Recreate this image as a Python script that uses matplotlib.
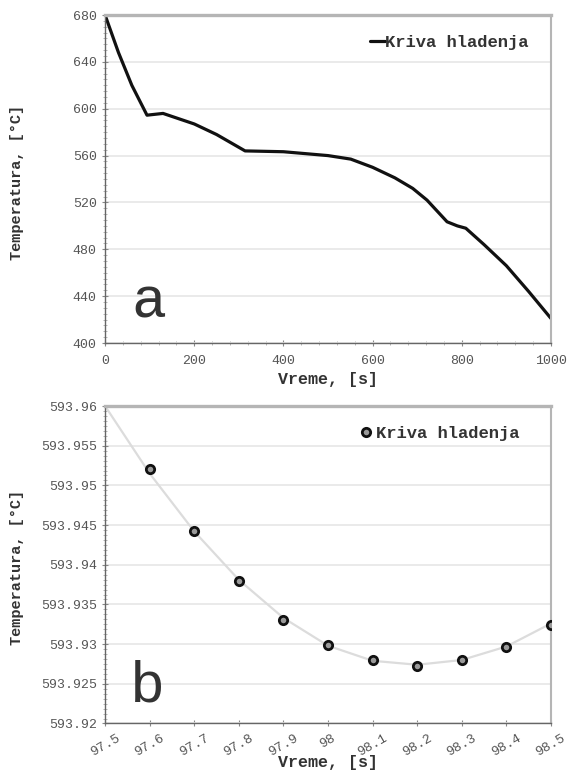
import matplotlib
matplotlib.use("Agg")
import matplotlib.pyplot as plt
from matplotlib.ticker import AutoMinorLocator

# ---- data (panel a) ----
time_a = [0, 30, 60, 94, 130, 200, 250, 314, 400, 500, 551, 600, 650, 690, 722, 767, 790, 809, 850, 900, 950, 1000]
temp_a = [680, 648, 620, 594.5, 596, 587, 578, 564, 563.3, 560, 557, 550, 541, 532, 522, 503.5, 500, 498, 484, 466, 444, 421]

# ---- data (panel b) ----
time_b = [97.6, 97.7, 97.8, 97.9, 98.0, 98.1, 98.2, 98.3, 98.4, 98.5]
temp_b = [593.9521, 593.9443, 593.9379, 593.9331, 593.9299, 593.9280, 593.9273, 593.9280, 593.9296, 593.9324]
fit_time = [97.5, 97.6, 97.7, 97.8, 97.9, 98.0, 98.1, 98.2, 98.3, 98.4, 98.5]
fit_temp = [593.9600, 593.9515, 593.9442, 593.9381, 593.9333, 593.9298, 593.9279, 593.9274, 593.9280, 593.9297, 593.9326]

yticks_a = [400, 440, 480, 520, 560, 600, 640, 680]
xticks_a = [0, 200, 400, 600, 800, 1000]
yticks_b = [593.92, 593.925, 593.93, 593.935, 593.94, 593.945, 593.95, 593.955, 593.96]
ytick_labels_b = ["593.92", "593.925", "593.93", "593.935", "593.94", "593.945", "593.95", "593.955", "593.96"]
xticks_b = [97.5, 97.6, 97.7, 97.8, 97.9, 98.0, 98.1, 98.2, 98.3, 98.4, 98.5]
xtick_labels_b = ["97.5", "97.6", "97.7", "97.8", "97.9", "98", "98.1", "98.2", "98.3", "98.4", "98.5"]

MONO = "Liberation Mono"

fig = plt.figure(figsize=(5.68, 7.70), dpi=100)
ax1 = fig.add_axes([0.185, 0.5545, 0.785, 0.426])
ax2 = fig.add_axes([0.185, 0.0604, 0.785, 0.4123])

def style(ax):
    ax.set_facecolor("white")
    for s in ["top", "right"]:
        ax.spines[s].set_color("#b5b5b5")
        ax.spines[s].set_linewidth(1.5)
    ax.spines["top"].set_linewidth(2.4)
    for s in ["left", "bottom"]:
        ax.spines[s].set_color("#666666")
        ax.spines[s].set_linewidth(1.0)
    ax.yaxis.grid(True, color="#e8e8e8", linewidth=1.3)
    ax.set_axisbelow(True)
    ax.tick_params(axis="both", which="major", direction="inout", length=5, width=0.8,
                   color="#888888", labelcolor="#555555", labelsize=9.5)
    ax.tick_params(axis="both", which="minor", direction="inout", length=3, width=0.6, color="#aaaaaa")
    for lab in ax.get_xticklabels() + ax.get_yticklabels():
        lab.set_fontfamily(MONO)

# Panel a
ax1.plot(time_a, temp_a, color="#111111", linewidth=2.3, label="Kriva hladenja", solid_capstyle="round")
ax1.set_xlim(0, 1000)
ax1.set_ylim(400, 680)
ax1.set_xticks(xticks_a)
ax1.set_yticks(yticks_a)
ax1.xaxis.set_minor_locator(AutoMinorLocator(5))
ax1.yaxis.set_minor_locator(AutoMinorLocator(8))
style(ax1)
ax1.tick_params(axis="x", which="major", pad=6)
ax1.set_xlabel("Vreme, [s]", fontfamily=MONO, fontsize=12, fontweight="bold", color="#333333", labelpad=4)
ax1.set_ylabel("Temperatura, [°C]", fontfamily=MONO, fontsize=11, fontweight="bold", color="#333333")
ax1.yaxis.set_label_coords(-0.182, 0.49)
leg1 = ax1.legend(loc="upper right", frameon=False, handlelength=0.9, handletextpad=0.0,
                  prop={"family": MONO, "size": 12.3, "weight": "bold"},
                  bbox_to_anchor=(0.985, 0.985))
for t in leg1.get_texts():
    t.set_color("#333333")
ax1.text(0.058, 0.079, "a", transform=ax1.transAxes, fontfamily=MONO, fontsize=42, color="#333333")

# Panel b
ax2.plot(fit_time, fit_temp, color="#dcdcdc", linewidth=1.6, zorder=2)
ax2.plot(time_b, temp_b, linestyle="none", marker="o", markersize=6, markerfacecolor="#9a9a9a",
         markeredgecolor="#111111", markeredgewidth=2.0, label="Kriva hladenja", zorder=3)
ax2.set_xlim(97.5, 98.5)
ax2.set_ylim(593.92, 593.96)
ax2.set_xticks(xticks_b)
ax2.set_xticklabels(xtick_labels_b, rotation=30)
ax2.set_yticks(yticks_b)
ax2.set_yticklabels(ytick_labels_b)
ax2.yaxis.set_minor_locator(AutoMinorLocator(8))
style(ax2)
ax2.set_xlabel("Vreme, [s]", fontfamily=MONO, fontsize=12, fontweight="bold", color="#333333", labelpad=-2)
ax2.set_ylabel("Temperatura, [°C]", fontfamily=MONO, fontsize=11, fontweight="bold", color="#333333")
ax2.yaxis.set_label_coords(-0.182, 0.49)
leg2 = ax2.legend(loc="upper right", frameon=False, handlelength=0.6, handletextpad=0.3,
                  prop={"family": MONO, "size": 12.3, "weight": "bold"},
                  bbox_to_anchor=(0.965, 0.985))
for t in leg2.get_texts():
    t.set_color("#333333")
ax2.text(0.055, 0.068, "b", transform=ax2.transAxes, fontfamily=MONO, fontsize=42, color="#333333")

fig.savefig("out.png", dpi=100, facecolor="white")
